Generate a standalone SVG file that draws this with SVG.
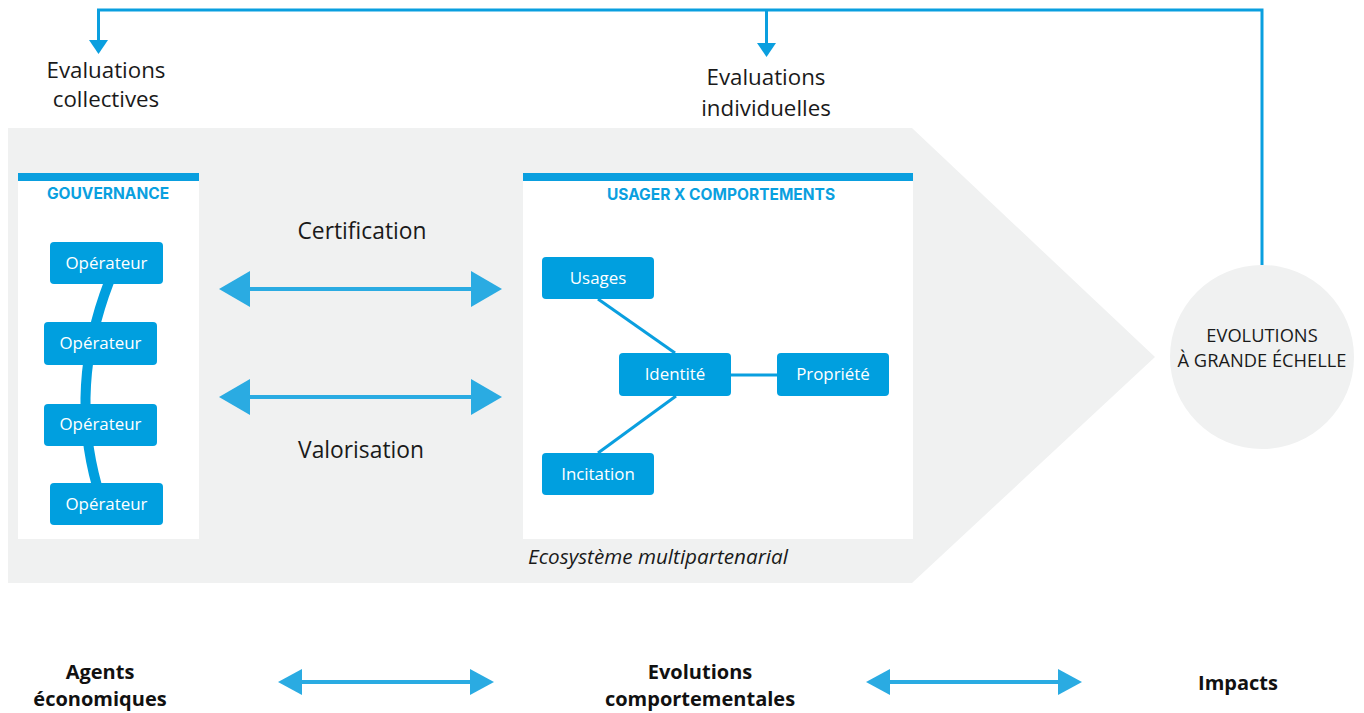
<svg xmlns="http://www.w3.org/2000/svg" width="1364" height="713" viewBox="0 0 1364 713">
<defs>
<style>
.t{font-family:"Open Sans","Liberation Sans",sans-serif;fill:#1a1a1a}
.lbl{font-size:22.3px}
.mid{font-size:22.8px}
.node rect{fill:#009fdf}
.node text{font-family:"Open Sans","Liberation Sans",sans-serif;font-size:16.9px;fill:#fff;text-anchor:middle}
.hdr{font-family:Inter,Roboto,"Liberation Sans",sans-serif;font-weight:700;font-size:15.5px;fill:#0aa0df;text-anchor:middle}
.bot{font-family:"Open Sans","Liberation Sans",sans-serif;font-weight:700;font-size:20px;fill:#111;text-anchor:middle}
.fb{stroke:#0a9fdf;stroke-width:3;fill:none}
.da{stroke:#2aabe2;stroke-width:4;fill:none}
.ln{stroke:#0a9fdf;stroke-width:3;fill:none}
</style>
</defs>
<rect width="1364" height="713" fill="#fff"/>
<g id="ecosystem">
<polygon points="8,128 912,128 1155,357 912,583 8,583" fill="#f0f1f1"/>
<text class="t" x="528" y="564" font-size="20.7" font-style="italic">Ecosystème multipartenarial</text>
</g>
<g id="gouvernance">
<rect x="18" y="173" width="181" height="366" fill="#fff"/>
<rect x="18" y="173" width="181" height="8" fill="#0a9fdf"/>
<text class="hdr" x="108" y="199">GOUVERNANCE</text>
<path d="M109 282 Q69 386 97 486" stroke="#009fdf" stroke-width="10" fill="none"/>
</g>
<g id="op1" class="node"><rect x="50" y="242" width="113" height="42" rx="4"/><text x="106.5" y="269">Opérateur</text></g>
<g id="op2" class="node"><rect x="44" y="322" width="113" height="43" rx="4"/><text x="100.5" y="349">Opérateur</text></g>
<g id="op3" class="node"><rect x="44" y="404" width="113" height="42" rx="4"/><text x="100.5" y="430">Opérateur</text></g>
<g id="op4" class="node"><rect x="50" y="483" width="113" height="42" rx="4"/><text x="106.5" y="510">Opérateur</text></g>
<g id="usager">
<rect x="523" y="173" width="390" height="366" fill="#fff"/>
<rect x="523" y="173" width="390" height="8" fill="#0a9fdf"/>
<text class="hdr" x="721" y="200">USAGER X COMPORTEMENTS</text>
</g>
<g id="inner-links">
<line class="ln" x1="598" y1="299" x2="675" y2="353"/>
<line class="ln" x1="676" y1="396" x2="598" y2="453"/>
<line class="ln" x1="731" y1="375" x2="777" y2="375"/>
</g>
<g id="usages" class="node"><rect x="542" y="257" width="112" height="42" rx="4"/><text x="598" y="284">Usages</text></g>
<g id="identite" class="node"><rect x="619" y="353" width="112" height="43" rx="4"/><text x="675" y="380">Identité</text></g>
<g id="propriete" class="node"><rect x="777" y="353" width="112" height="43" rx="4"/><text x="833" y="380">Propriété</text></g>
<g id="incitation" class="node"><rect x="542" y="453" width="112" height="42" rx="4"/><text x="598" y="480">Incitation</text></g>
<g id="evolutions-grande">
<circle cx="1262" cy="357" r="92" fill="#f0f1f1"/>
<text class="t" x="1262" y="342" font-size="18.3" text-anchor="middle">EVOLUTIONS</text>
<text class="t" x="1262" y="367" font-size="18.3" text-anchor="middle">À GRANDE ÉCHELLE</text>
</g>
<g id="eval-collectives"><text class="t lbl" x="106" y="78" text-anchor="middle">Evaluations</text><text class="t lbl" x="106" y="107" text-anchor="middle">collectives</text></g>
<g id="eval-individuelles"><text class="t lbl" x="766" y="85" text-anchor="middle">Evaluations</text><text class="t lbl" x="766" y="116" text-anchor="middle">individuelles</text></g>
<g id="labels-mid">
<text class="t mid" x="362" y="239" text-anchor="middle">Certification</text>
<text class="t mid" x="361" y="458" text-anchor="middle">Valorisation</text>
</g>
<g id="bottom-labels">
<text class="bot" x="100" y="679">Agents</text><text class="bot" x="100" y="706">économiques</text>
<text class="bot" x="700" y="679">Evolutions</text><text class="bot" x="700" y="706">comportementales</text>
<text class="bot" x="1238" y="690">Impacts</text>
</g>
<g id="connectors">
<path class="fb" d="M1262 265 V10 H98.5 V42"/>
<polygon points="89,40 108,40 98.5,54" fill="#0a9fdf"/>
<line class="fb" x1="766.5" y1="10" x2="766.5" y2="45"/>
<polygon points="757,43 776,43 766.5,57" fill="#0a9fdf"/>
<line class="da" x1="245" y1="289" x2="476" y2="289"/>
<polygon points="219,289 250,271 250,307" fill="#2aabe2"/>
<polygon points="502,289 471,271 471,307" fill="#2aabe2"/>
<line class="da" x1="245" y1="397" x2="476" y2="397"/>
<polygon points="219,397 250,379 250,415" fill="#2aabe2"/>
<polygon points="502,397 471,379 471,415" fill="#2aabe2"/>
<line class="da" x1="298" y1="682" x2="474" y2="682"/>
<polygon points="278,682 302,669 302,695" fill="#2aabe2"/>
<polygon points="494,682 470,669 470,695" fill="#2aabe2"/>
<line class="da" x1="886" y1="682" x2="1062" y2="682"/>
<polygon points="866,682 890,669 890,695" fill="#2aabe2"/>
<polygon points="1082,682 1058,669 1058,695" fill="#2aabe2"/>
</g>
</svg>
